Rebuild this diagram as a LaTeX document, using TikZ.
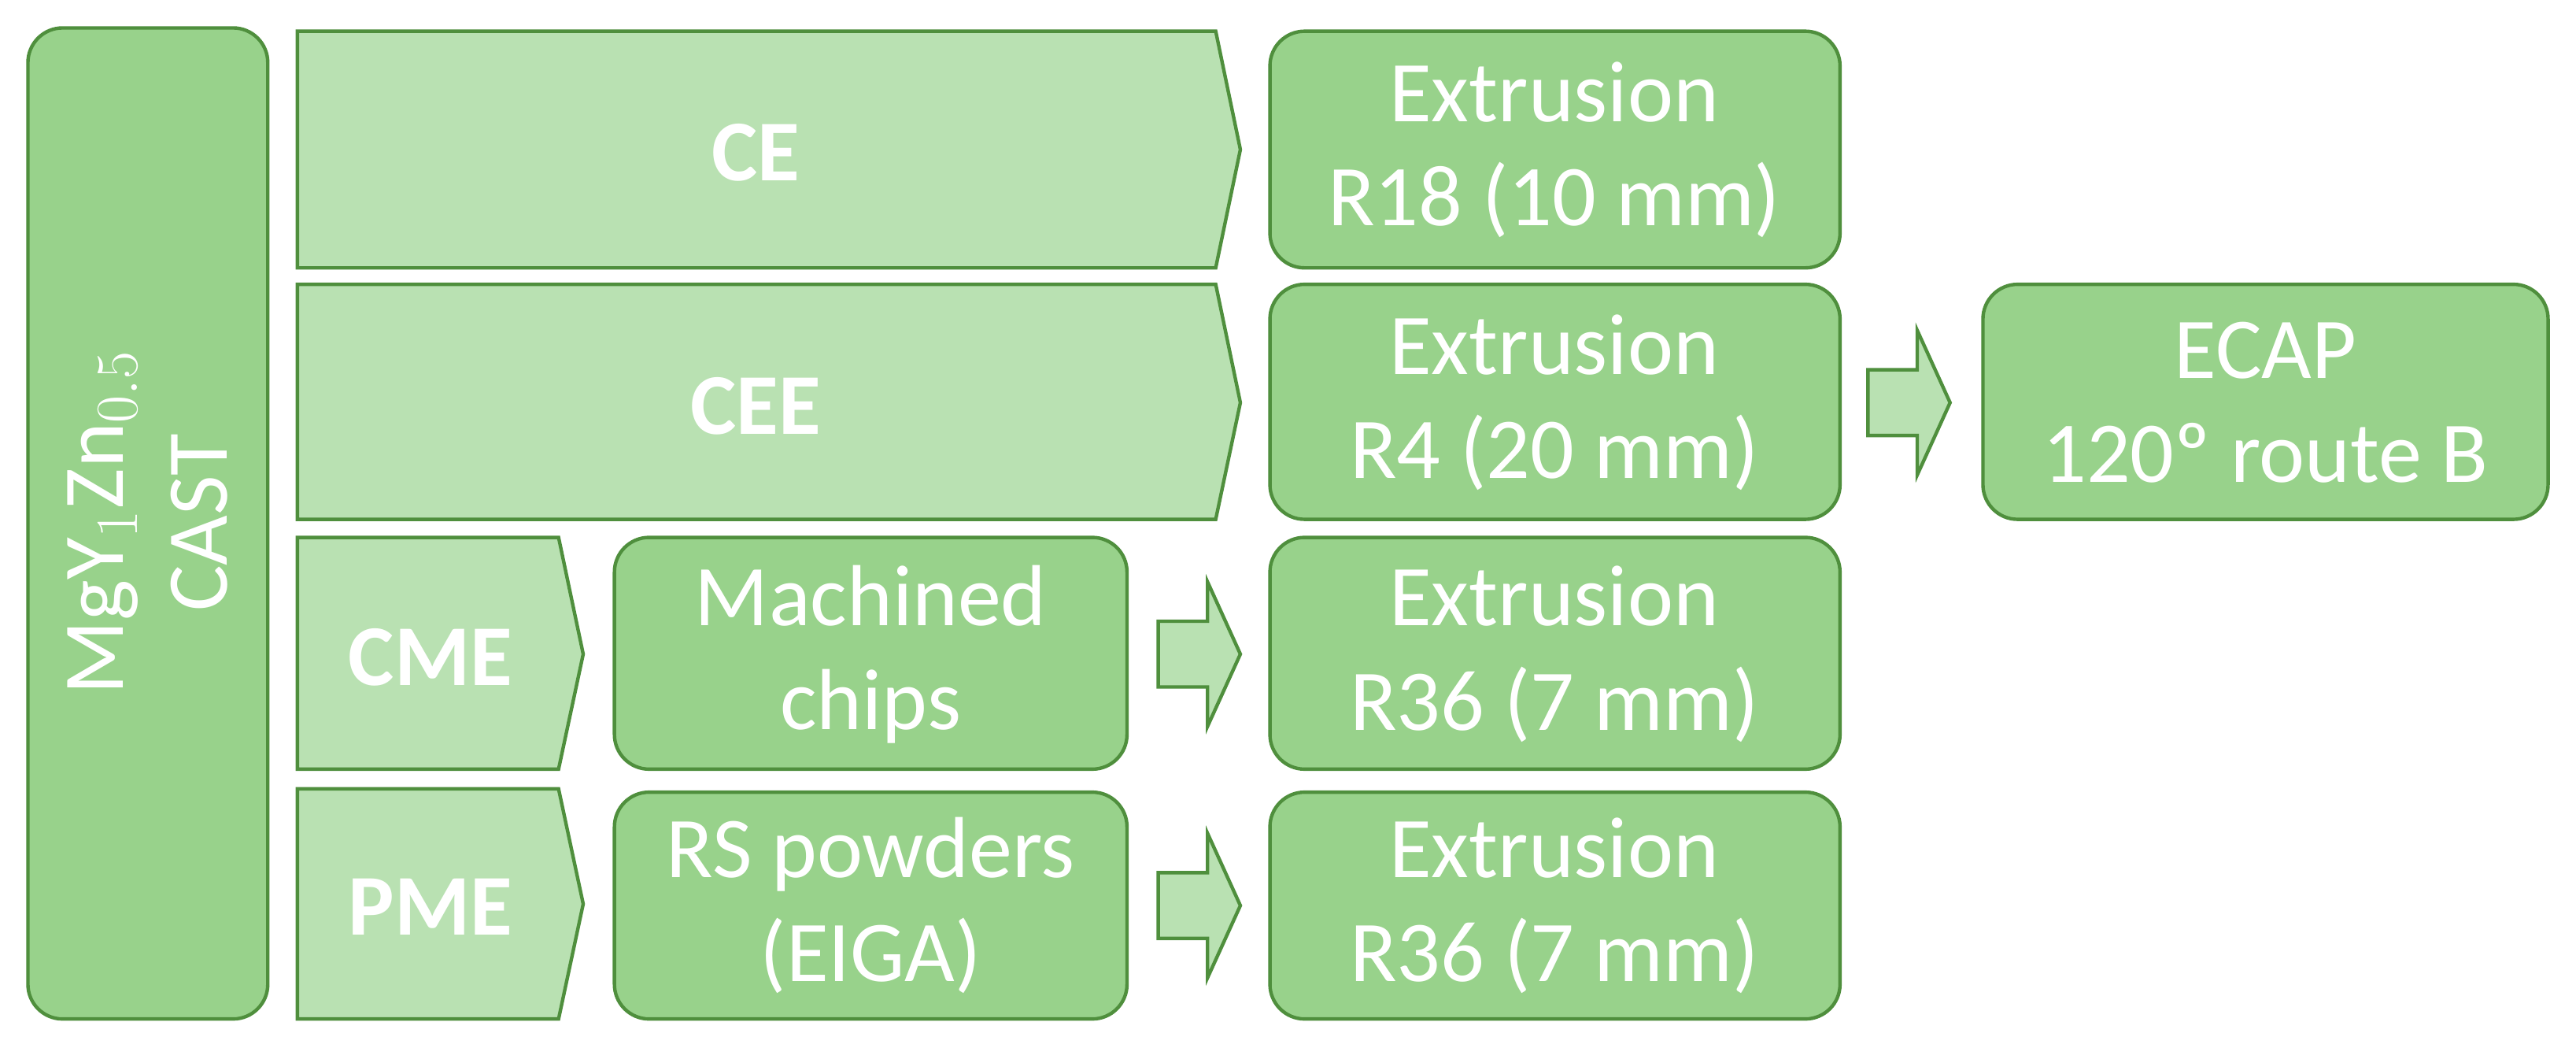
\documentclass[tikz,border=0pt]{standalone}
\usepackage{fontspec}
\setmainfont{Carlito}
\definecolor{dk}{HTML}{98D28B}
\definecolor{lt}{HTML}{B9E1B2}
\definecolor{bd}{HTML}{4F8F3D}
\tikzset{
 box/.style={draw=bd,fill=dk,line width=1.2pt,rounded corners=12pt},
 chev/.style={draw=bd,fill=lt,line width=1.2pt,line join=miter},
 txt/.style={text=white,font=\fontsize{30}{36}\selectfont,align=center},
 btxt/.style={text=white,font=\fontsize{30}{36}\selectfont\bfseries,align=center}
}
\begin{document}
\begin{tikzpicture}[x=0.02cm,y=-0.02cm]
\useasboundingbox (0,0) rectangle (1568,644);
% left bar
\draw[box] (17,17) rectangle (163,620);
\node[txt,rotate=90] (cast) at (90,318) {MgY$_1$Zn$_{0.5}$\\CAST};
% chevrons
\draw[chev] (181,19) -- (740,19) -- (755,91) -- (740,163) -- (181,163) -- cycle;
\node[btxt] (ce) at (460,93) {CE};
\draw[chev] (181,173) -- (740,173) -- (755,245) -- (740,316) -- (181,316) -- cycle;
\node[btxt] (cee) at (460,247) {CEE};
\draw[chev] (181,327) -- (340,327) -- (355,398) -- (340,468) -- (181,468) -- cycle;
\node[btxt] (cme) at (262,400) {CME};
\draw[chev] (181,480) -- (340,480) -- (355,550) -- (340,620) -- (181,620) -- cycle;
\node[btxt] (pme) at (262,552) {PME};
% boxes
\draw[box] (374,327) rectangle (686,468);
\node[txt] (chips) at (530,398) {Machined\\chips};
\draw[box] (374,482) rectangle (686,620);
\node[txt] (pow) at (530,551) {RS powders\\(EIGA)};
\draw[box] (773,19) rectangle (1120,163);
\node[txt] (e1) at (946,91) {Extrusion\\R18 (10 mm)};
\draw[box] (773,173) rectangle (1120,316);
\node[txt] (e2) at (946,245) {Extrusion\\R4 (20 mm)};
\draw[box] (773,327) rectangle (1120,468);
\node[txt] (e3) at (946,398) {Extrusion\\R36 (7 mm)};
\draw[box] (773,482) rectangle (1120,620);
\node[txt] (e4) at (946,551) {Extrusion\\R36 (7 mm)};
\draw[box] (1207,173) rectangle (1551,316);
\node[txt] (ecap) at (1379,245) {ECAP\\120º route B};
% arrows
\foreach \x/\y in {705/398, 705/551, 1137/245}{
 \draw[chev] (\x,\y-20) -- (\x+30,\y-20) -- (\x+30,\y-44) -- (\x+50,\y) -- (\x+30,\y+44) -- (\x+30,\y+20) -- (\x,\y+20) -- cycle;
}
\end{tikzpicture}
\end{document}
